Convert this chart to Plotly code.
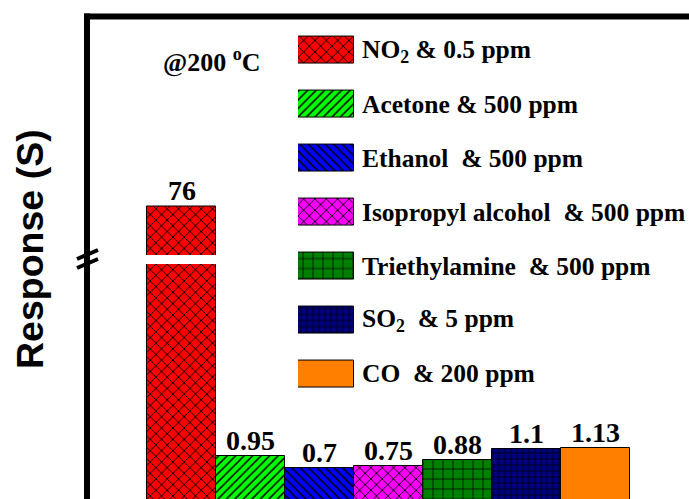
import plotly.graph_objects as go

# ---------------- data ----------------
gases = ["NO<sub>2</sub> & 0.5 ppm", "Acetone & 500 ppm", "Ethanol  & 500 ppm",
         "Isopropyl alcohol  & 500 ppm", "Triethylamine  & 500 ppm",
         "SO<sub>2</sub>  & 5 ppm", "CO  & 200 ppm"]
responses = [76, 0.95, 0.7, 0.75, 0.88, 1.1, 1.13]
value_labels = ["76", "0.95", "0.7", "0.75", "0.88", "1.1", "1.13"]

# ---------------- styles ----------------
colors = ["#FF0000", "#00FF00", "#0000FF", "#FF00FF", "#008000", "#000080", "#FF8000"]
shapes_p = ["x", "/", "\\", "x", "+", "+", ""]
sizes_p = [8, 6, 6, 8, 10, 6, 8]
solid_p = [0.22, 0.25, 0.25, 0.22, 0.14, 0.22, 0.2]

W, H = 689, 499
def px(x):
    return x / W
def py(y):
    return (H - y) / H

serif = "Liberation Serif, Times New Roman, serif"
sans = "Liberation Sans, Arial, sans-serif"

idx = list(range(len(gases)))

def marker_for(i):
    m = dict(color=colors[i], line=dict(color="black", width=1))
    if shapes_p[i]:
        m["pattern"] = dict(shape=shapes_p[i], size=sizes_p[i], solidity=solid_p[i],
                            fgcolor="black", bgcolor=colors[i], fgopacity=1,
                            fillmode="replace")
    return m

fig = go.Figure()
for i in idx:
    # lower segment (NO2 clipped at segment top)
    fig.add_trace(go.Bar(x=[i], y=[responses[i]], xaxis="x", yaxis="y",
                         marker=marker_for(i), width=1, showlegend=False, hoverinfo="skip"))
    # legend key
    fig.add_trace(go.Bar(y=[i], x=[1], orientation="h", xaxis="x3", yaxis="y3",
                         marker=marker_for(i), width=0.5, showlegend=False, hoverinfo="skip"))
# upper segment (broken axis) for the NO2 bar
fig.add_trace(go.Bar(x=[0], y=[responses[0]], xaxis="x", yaxis="y2",
                     marker=marker_for(0), width=1, showlegend=False, hoverinfo="skip"))

annotations = []
for i, (v, lab) in enumerate(zip(responses, value_labels)):
    annotations.append(dict(x=i, y=v, xref="x", yref="y2" if i == 0 else "y",
                            text=lab, showarrow=False, yanchor="bottom", xanchor="center",
                            yshift=-1 if i == 0 else -2,
                            font=dict(family=serif, size=28, color="black", weight="bold")))
for i, g in enumerate(gases):
    annotations.append(dict(x=px(360), y=i, xref="paper", yref="y3", text=g,
                            showarrow=False, xanchor="left", yanchor="middle",
                            font=dict(family=serif, size=25.5, color="black", weight="bold")))
annotations.append(dict(x=px(212), y=py(60), xref="paper", yref="paper",
                        text="@200 <sup>o</sup>C", showarrow=False,
                        xanchor="center", yanchor="middle",
                        font=dict(family=serif, size=26, color="black", weight="bold")))
annotations.append(dict(x=px(30), y=py(249), xref="paper", yref="paper",
                        text="Response (S)", showarrow=False, textangle=-90,
                        xanchor="center", yanchor="middle",
                        font=dict(family=sans, size=37.5, color="black", weight="bold")))

shapes = [
    dict(type="line", xref="paper", yref="paper", x0=px(87), x1=px(87), y0=0, y1=py(13.5),
         line=dict(color="black", width=6)),
    dict(type="line", xref="paper", yref="paper", x0=px(84), x1=1, y0=py(16.5), y1=py(16.5),
         line=dict(color="black", width=6)),
    dict(type="line", xref="paper", yref="paper", x0=px(77), x1=px(98), y0=py(259), y1=py(250),
         line=dict(color="black", width=4)),
    dict(type="line", xref="paper", yref="paper", x0=px(77), x1=px(98), y0=py(268), y1=py(259),
         line=dict(color="black", width=4)),
]

fig.update_layout(
    width=W, height=H, margin=dict(l=0, r=0, t=0, b=0),
    paper_bgcolor="white", plot_bgcolor="rgba(0,0,0,0)",
    barmode="overlay", bargap=0,
    xaxis=dict(domain=[px(88), 1], range=[-1.362, 7.348], visible=False),
    yaxis=dict(domain=[0, py(264)], range=[0.034, 5.088], visible=False),
    yaxis2=dict(domain=[py(255), py(16.5)], range=[70, 99.8], visible=False, anchor="x"),
    xaxis3=dict(domain=[px(298), px(354)], range=[0, 1], visible=False, anchor="y3"),
    yaxis3=dict(domain=[py(400.95), py(23.55)], range=[6.5, -0.5], visible=False, anchor="x3"),
    annotations=annotations, shapes=shapes,
)

fig.write_html("out.html", config={"displayModeBar": False},
               post_script="document.body.style.margin='0';document.body.style.overflow='hidden';")
